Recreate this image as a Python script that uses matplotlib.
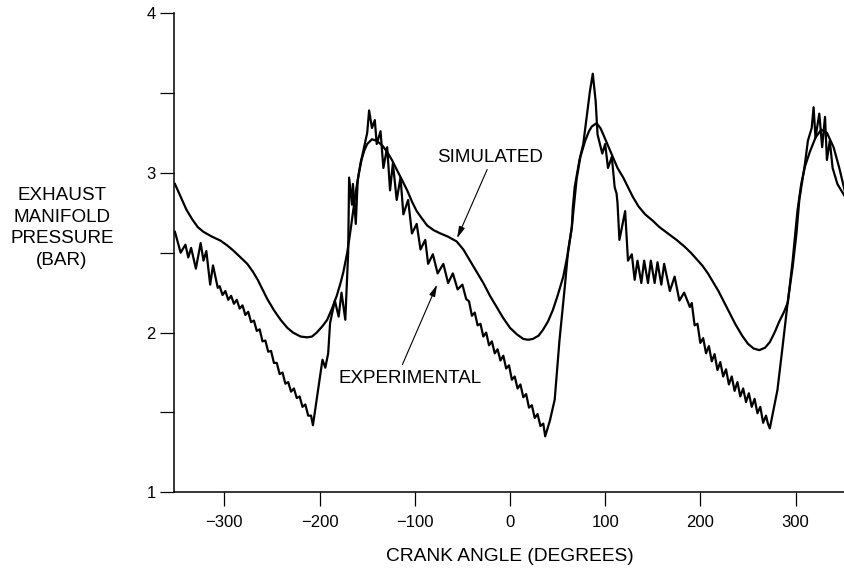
import matplotlib
matplotlib.use('Agg')
import matplotlib.pyplot as plt

plt.rcParams['font.family'] = ['Liberation Sans', 'DejaVu Sans']

# simulated manifold pressure (bar) against crank angle (deg)
sim_angle = [-352, -346, -340, -334, -328, -322, -313, -304, -297, -291,
             -283, -276, -270, -265, -260, -255, -248, -241, -234, -228,
             -220, -213, -208, -203, -197, -192, -187, -182, -178, -175,
             -171, -168, -165, -162, -159, -156, -153, -150, -145, -140,
             -134, -129, -124, -119, -113, -108, -103, -98, -92, -87,
             -80, -73, -65, -56, -49, -42, -35, -28, -21, -14,
             -7, 0, 7, 14, 19, 24, 30, 35, 40, 45,
             50, 56, 61, 65, 70, 74, 79, 83, 86, 91,
             95, 98, 103, 108, 113, 119, 124, 129, 135, 142,
             150, 157, 166, 175, 183, 190, 196, 202, 208, 213,
             219, 225, 231, 237, 244, 250, 256, 262, 268, 273,
             278, 283, 288, 292, 297, 302, 306, 310, 315, 321,
             327, 333, 340, 346, 352]
sim_pressure = [2.93, 2.85, 2.77, 2.71, 2.66, 2.63, 2.60, 2.575, 2.545, 2.515,
                2.47, 2.43, 2.38, 2.33, 2.27, 2.21, 2.14, 2.08, 2.03, 2.00,
                1.975, 1.97, 1.975, 2.00, 2.04, 2.08, 2.15, 2.23, 2.31, 2.38,
                2.50, 2.62, 2.75, 2.88, 2.99, 3.08, 3.14, 3.18, 3.21, 3.20,
                3.17, 3.13, 3.08, 3.02, 2.95, 2.89, 2.82, 2.76, 2.71, 2.67,
                2.64, 2.62, 2.60, 2.57, 2.52, 2.45, 2.38, 2.31, 2.23, 2.16,
                2.09, 2.03, 1.99, 1.96, 1.955, 1.96, 1.98, 2.02, 2.07, 2.14,
                2.23, 2.35, 2.50, 2.66, 2.96, 3.10, 3.20, 3.26, 3.29, 3.31,
                3.28, 3.24, 3.17, 3.10, 3.03, 2.97, 2.91, 2.85, 2.79, 2.74,
                2.70, 2.66, 2.62, 2.58, 2.54, 2.50, 2.46, 2.42, 2.37, 2.32,
                2.26, 2.19, 2.12, 2.05, 1.98, 1.93, 1.90, 1.89, 1.905, 1.94,
                2.00, 2.07, 2.13, 2.19, 2.45, 2.76, 2.93, 3.04, 3.13, 3.22,
                3.27, 3.25, 3.16, 3.03, 2.88]

# measured manifold pressure, ripple included
exp_angle = [-352, -346, -341, -338, -335, -330, -325, -322, -319, -315,
             -312, -307, -305, -302, -299, -296, -293, -290, -287, -284,
             -281, -278, -275, -272, -269, -266, -263, -260, -257, -254,
             -251, -248, -245, -242, -239, -236, -233, -230, -227, -224,
             -221, -218, -215, -212, -209, -207, -197, -194, -191, -189,
             -184, -180, -177, -173, -171, -170, -169, -166, -165, -162,
             -160, -157, -154, -150, -148, -145, -142, -140, -136, -133,
             -129, -126, -123, -119, -115, -112, -107, -103, -98, -94,
             -89, -86, -81, -76, -70, -65, -60, -55, -50, -46,
             -43, -40, -37, -34, -31, -28, -25, -22, -19, -16,
             -13, -10, -7, -4, -1, 2, 5, 8, 11, 14,
             17, 20, 23, 26, 29, 32, 35, 37, 42, 47,
             52, 58, 61, 65, 66, 68, 73, 77, 81, 84,
             87, 90, 92, 97, 100, 103, 107, 110, 112, 113,
             115, 121, 124, 128, 131, 134, 138, 141, 145, 148,
             152, 155, 159, 162, 168, 173, 178, 183, 189, 191,
             194, 197, 200, 203, 206, 209, 212, 215, 218, 221,
             224, 227, 230, 233, 236, 239, 242, 245, 248, 251,
             254, 257, 260, 263, 266, 269, 271, 273, 281, 286,
             292, 297, 301, 304, 310, 313, 317, 319, 321, 325,
             328, 331, 333, 336, 339, 341, 344, 348, 352]
exp_pressure = [2.63, 2.50, 2.55, 2.47, 2.53, 2.40, 2.56, 2.45, 2.51, 2.30,
                2.42, 2.28, 2.29, 2.235, 2.26, 2.205, 2.23, 2.18, 2.205, 2.15,
                2.17, 2.11, 2.13, 2.065, 2.075, 2.01, 2.02, 1.945, 1.95, 1.88,
                1.885, 1.81, 1.81, 1.74, 1.75, 1.68, 1.69, 1.63, 1.65, 1.59,
                1.60, 1.535, 1.55, 1.48, 1.48, 1.42, 1.83, 1.78, 1.87, 2.06,
                2.20, 2.10, 2.25, 2.08, 2.35, 2.50, 2.97, 2.80, 2.93, 2.68,
                2.95, 3.06, 3.14, 3.25, 3.39, 3.28, 3.33, 3.18, 3.26, 3.03,
                3.16, 2.89, 3.06, 2.83, 2.97, 2.74, 2.83, 2.62, 2.68, 2.52,
                2.58, 2.43, 2.49, 2.37, 2.43, 2.31, 2.37, 2.27, 2.30, 2.21,
                2.195, 2.105, 2.125, 2.045, 2.055, 1.975, 2.00, 1.92, 1.945, 1.87,
                1.895, 1.825, 1.855, 1.775, 1.795, 1.705, 1.725, 1.65, 1.675, 1.595,
                1.615, 1.53, 1.545, 1.465, 1.49, 1.415, 1.43, 1.35, 1.45, 1.58,
                1.95, 2.31, 2.51, 2.66, 2.78, 2.91, 3.08, 3.18, 3.37, 3.51,
                3.62, 3.45, 3.24, 3.12, 3.18, 3.03, 3.10, 2.91, 2.87, 2.81,
                2.58, 2.76, 2.45, 2.49, 2.33, 2.45, 2.31, 2.45, 2.31, 2.45,
                2.31, 2.44, 2.30, 2.43, 2.26, 2.35, 2.20, 2.25, 2.16, 2.185,
                2.045, 2.055, 1.935, 1.965, 1.87, 1.915, 1.82, 1.865, 1.765, 1.815,
                1.725, 1.77, 1.675, 1.725, 1.635, 1.69, 1.60, 1.65, 1.565, 1.62,
                1.535, 1.585, 1.495, 1.535, 1.435, 1.48, 1.43, 1.40, 1.64, 1.89,
                2.20, 2.41, 2.62, 2.83, 3.06, 3.20, 3.28, 3.41, 3.22, 3.37,
                3.16, 3.35, 3.08, 3.20, 3.03, 2.99, 2.93, 2.89, 2.85]

x_ticks = [-300, -200, -100, 0, 100, 200, 300]
y_ticks = [1, 2, 3, 4]
y_minor = [1.5, 2.5, 3.5]

fig = plt.figure(figsize=(8.45, 5.73), dpi=100)
ax = fig.add_axes([0.2059, 0.1408, 0.7941, 0.8365])

ax.plot(sim_angle, sim_pressure, color='black', lw=1.6)
ax.plot(exp_angle, exp_pressure, color='black', lw=1.6)

ax.set_xlim(-353, 352)
ax.set_ylim(1, 4)
ax.set_xticks(x_ticks)
ax.set_yticks(y_ticks)
ax.set_yticks(y_minor, minor=True)

for side in ('top', 'right'):
    ax.spines[side].set_visible(False)
for side in ('left', 'bottom'):
    ax.spines[side].set_linewidth(1.1)

ax.tick_params(axis='both', which='both', direction='out', length=10,
               width=0.9, labelsize=12)
ax.tick_params(axis='x', pad=6)
ax.tick_params(axis='y', pad=3)

ax.set_xlabel('CRANK ANGLE (DEGREES)', fontsize=13.8, labelpad=13)
fig.text(62 / 845, 1 - 228 / 573, 'EXHAUST\nMANIFOLD\nPRESSURE\n(BAR)',
         ha='center', va='center', fontsize=13.6, linespacing=1.35)

arrow = dict(arrowstyle='-|>,head_width=0.18,head_length=0.7', lw=0.8,
             color='black', shrinkA=0, shrinkB=0)
ax.annotate('', xy=(-55.6, 2.59), xytext=(-24, 3.02), arrowprops=arrow)
ax.text(-76.6, 3.096, 'SIMULATED', fontsize=13.5, va='center', ha='left')
ax.annotate('', xy=(-76.6, 2.30), xytext=(-113, 1.80), arrowprops=arrow)
ax.text(-180.5, 1.714, 'EXPERIMENTAL', fontsize=13.5, va='center', ha='left')

fig.savefig('out.png', dpi=100)
